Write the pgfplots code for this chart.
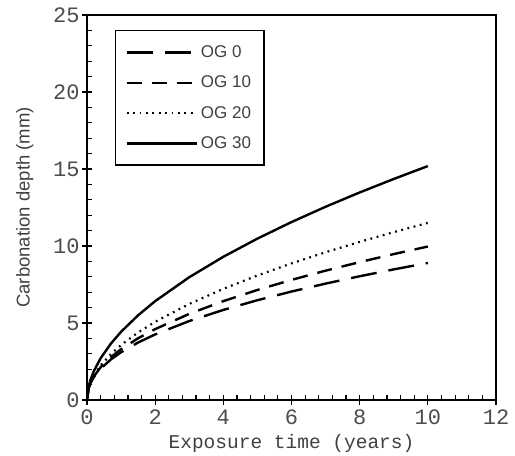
\documentclass[border=0pt]{standalone}
\usepackage{fontspec}
\setmainfont{Liberation Serif}
\newfontfamily\monofont{Liberation Mono}
\newfontfamily\sansfont{Liberation Sans}
\usepackage{pgfplots}
\pgfplotsset{compat=1.18}
\usetikzlibrary{calc}

\begin{document}
\begin{tikzpicture}
\begin{axis}[
  name=ax, scale only axis, width=409pt, height=385pt,
  xmin=0, xmax=12, ymin=0, ymax=25,
  xtick={0,2,...,12}, ytick={0,5,...,25},
  minor x tick num=4, minor y tick num=4,
  tick align=inside, major tick length=5pt, minor tick length=5pt,
  xtick pos=left, ytick pos=left,
  extra x ticks={0,2,...,12}, extra y ticks={0,5,...,25},
  extra x tick labels={}, extra y tick labels={},
  extra tick style={tick align=outside, major tick length=5pt},
  axis line style={line width=1.6pt}, every tick/.style={black, line width=1.2pt},
  /pgf/number format/assume math mode=true,
  tick label style={font=\monofont\fontsize{22}{22}\selectfont, text=black!70},
  xticklabel style={yshift=-6pt},
  yticklabel style={xshift=-4pt},
  xlabel={Exposure time (years)},
  ylabel={Carbonation depth (mm)},
  xlabel style={font=\monofont\fontsize{19.5}{20}\selectfont, text=black!75, at={(axis description cs:0.5,-0.114)}, anchor=center},
  ylabel style={font=\sansfont\fontsize{18.5}{19}\selectfont, text=black!75, at={(axis description cs:-0.152,0.5)}, anchor=center},
  legend cell align=left,
  legend style={at={(rel axis cs:0.068,0.961)}, anchor=north west, draw=black, line width=1.4pt,
    font=\sansfont\fontsize{17}{17}\selectfont, text=black!75,
    row sep=17pt, inner xsep=10pt, inner ysep=15pt,
    nodes={inner xsep=3pt, inner ysep=0pt}},
  legend image code/.code={\draw[#1] (0pt,0pt) -- (70pt,0pt);},
]
\addplot[black, line width=2.4pt, dash pattern=on 26pt off 12pt] coordinates {
  (0,0) (0.05,0.786) (0.1,1.080) (0.2,1.483) (0.4,2.038) (0.7,2.633) (1,3.1)
  (1.5,3.733) (2,4.258) (3,5.127) (4,5.849) (5,6.479) (6,7.043) (7,7.558)
  (8,8.035) (9,8.480) (10,8.90)};
\addlegendentry{OG 0}
\addplot[black, line width=2.4pt, dash pattern=on 15pt off 10pt] coordinates {
  (0,0) (0.05,0.783) (0.1,1.093) (0.2,1.524) (0.4,2.126) (0.7,2.781) (1,3.3)
  (1.5,4.009) (2,4.603) (3,5.592) (4,6.420) (5,7.145) (6,7.799) (7,8.398)
  (8,8.953) (9,9.475) (10,9.966)};
\addlegendentry{OG 10}
\addplot[black, line width=2.2pt, dash pattern=on 1.8pt off 4.6pt] coordinates {
  (0,0) (0.05,0.779) (0.1,1.108) (0.2,1.576) (0.4,2.242) (0.7,2.978) (1,3.57)
  (1.5,4.387) (2,5.077) (3,6.238) (4,7.219) (5,8.086) (6,8.871) (7,9.593)
  (8,10.267) (9,10.900) (10,11.50)};
\addlegendentry{OG 20}
\addplot[black, line width=2.4pt] coordinates {
  (0,0) (0.05,0.892) (0.1,1.292) (0.2,1.873) (0.4,2.713) (0.7,3.660) (1,4.43)
  (1.5,5.503) (2,6.419) (3,7.974) (4,9.300) (5,10.479) (6,11.554) (7,12.547)
  (8,13.476) (9,14.352) (10,15.19)};
\addlegendentry{OG 30}
\end{axis}
\pgfresetboundingbox
\path[use as bounding box] ($(ax.south west)+(-87pt,-56pt)$) rectangle ($(ax.north east)+(19pt,15pt)$);
\end{tikzpicture}
\end{document}
